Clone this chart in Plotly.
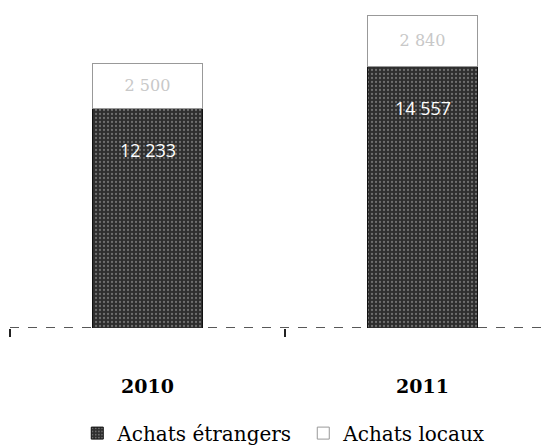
import plotly.graph_objects as go

years = ["2010", "2011"]
achats_etrangers = [12233, 14557]
achats_locaux = [2500, 2840]
etr_labels = ["12 233", "14 557"]
loc_labels = ["2 500", "2 840"]

SERIF = "DejaVu Serif, Liberation Serif, serif"
SANS = "Open Sans, Liberation Sans, sans-serif"

fig = go.Figure()
fig.add_trace(go.Bar(
    x=years, y=achats_etrangers, name="Achats étrangers",
    marker=dict(color="#2e2e2e", line=dict(color="#111111", width=1),
                pattern=dict(shape=".", fgcolor="#b0b0b0", bgcolor="#2e2e2e",
                             size=4, solidity=0.25)),
    width=0.4, hoverinfo="skip",
))
fig.add_trace(go.Bar(
    x=years, y=achats_locaux, name="Achats locaux",
    marker=dict(color="white", line=dict(color="#999999", width=1)),
    text=loc_labels, textposition="inside", insidetextanchor="middle",
    textfont=dict(color="#c8c8c8", size=16, family=SERIF),
    width=0.4, hoverinfo="skip",
))

for i, (val, lab) in enumerate(zip(achats_etrangers, etr_labels)):
    fig.add_annotation(x=i, y=val, xref="x", yref="y", text=lab,
                       showarrow=False, yshift=-42,
                       font=dict(color="white", size=18, family=SANS))

fig.update_layout(
    barmode="stack",
    width=549, height=447,
    margin=dict(l=2, r=0, t=0, b=127),
    plot_bgcolor="white", paper_bgcolor="white",
    font=dict(family=SERIF, color="black"),
    showlegend=True,
    legend=dict(orientation="h", x=0.123, xanchor="left", y=-0.2675, yanchor="top",
                font=dict(size=20, family=SERIF), traceorder="normal",
                itemwidth=30, entrywidth=181, entrywidthmode="pixels"),
)
fig.update_xaxes(
    type="category",
    range=[-0.5, 1.489], showline=False, showgrid=False,
    ticks="outside", tickson="boundaries", ticklen=8, tickcolor="#222",
    tickwidth=1.5,
    tickfont=dict(size=19, family=SERIF, weight="bold"),
    ticklabelstandoff=45,
)
fig.update_yaxes(range=[0, 17800], visible=False)
fig.add_shape(type="line", xref="paper", yref="y", x0=0, x1=1, y0=0, y1=0,
              line=dict(color="#222", width=1.5, dash="dash"), layer="below")

fig.write_html("out.html")
